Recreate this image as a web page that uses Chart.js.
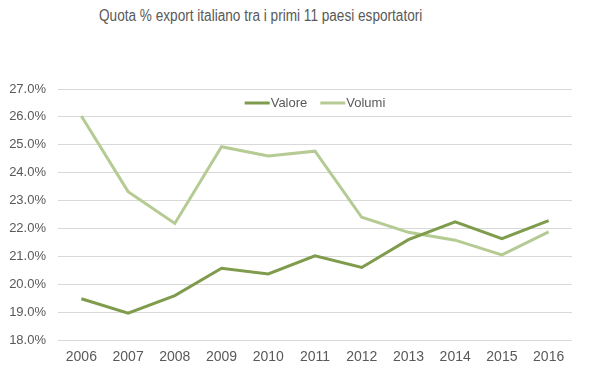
<!DOCTYPE html>
<html>
<head>
<meta charset="utf-8">
<script src="https://cdn.jsdelivr.net/npm/chart.js@4.4.1/dist/chart.umd.min.js"></script>
<style>
  html, body { margin: 0; padding: 0; background: #ffffff; }
  #wrap { position: relative; width: 600px; height: 378px; }
  #title {
    position: absolute; left: 99px; top: 7px; white-space: nowrap;
    font-family: "Liberation Sans", Arial, sans-serif;
    font-size: 16px; color: #595959;
    transform: scaleX(0.85); transform-origin: left top;
  }
  canvas { position: absolute; left: 0; top: 0; }
</style>
</head>
<body>
<div id="wrap">
  <div id="title">Quota % export italiano tra i primi 11 paesi esportatori</div>
  <canvas id="chart" width="600" height="378"></canvas>
</div>
<script>
  const YEARS = ["2006", "2007", "2008", "2009", "2010", "2011", "2012", "2013", "2014", "2015", "2016"];
  const VALORE = [19.48, 18.96, 19.59, 20.57, 20.37, 21.02, 20.6, 21.6, 22.24, 21.63, 22.28];
  const VOLUMI = [26.03, 23.32, 22.18, 24.93, 24.6, 24.77, 22.4, 21.86, 21.58, 21.05, 21.88];
  const Y_MIN = 18, Y_MAX = 27, Y_STEP = 1;

  const TEXT = "#595959";
  const GRID = "#d9d9d9";
  const FONT = "'Liberation Sans', Arial, sans-serif";

  // legend drawn inside the plot, centred, just under the top gridline
  const innerLegend = {
    id: "innerLegend",
    afterDatasetsDraw(chart) {
      const c = chart.ctx, area = chart.chartArea;
      const sw = 25, gap = 1, itemGap = 13, y = area.top + 14;
      c.save();
      c.font = "13px " + FONT;
      const items = chart.data.datasets.map((ds) => ({
        ds, w: sw + gap + c.measureText(ds.label).width,
      }));
      const total = items.reduce((a, it) => a + it.w, 0) + itemGap * (items.length - 1);
      let x = (area.left + area.right) / 2 - total / 2;
      items.forEach((it) => {
        c.strokeStyle = it.ds.borderColor;
        c.lineWidth = 3;
        c.beginPath();
        c.moveTo(x, y);
        c.lineTo(x + sw, y);
        c.stroke();
        c.fillStyle = TEXT;
        c.textBaseline = "middle";
        c.fillText(it.ds.label, x + sw + gap, y);
        x += it.w + itemGap;
      });
      c.restore();
    },
  };

  const ctx = document.getElementById("chart").getContext("2d");
  new Chart(ctx, {
    type: "line",
    data: {
      labels: YEARS,
      datasets: [
        { label: "Valore", data: VALORE, borderColor: "#7f9b4c", backgroundColor: "#7f9b4c",
          borderWidth: 3, pointRadius: 0, tension: 0 },
        { label: "Volumi", data: VOLUMI, borderColor: "#b5cb93", backgroundColor: "#b5cb93",
          borderWidth: 3, pointRadius: 0, tension: 0 },
      ],
    },
    options: {
      responsive: false, animation: false,
      layout: { padding: { top: 89, right: 28, left: 0, bottom: 0 } },
      scales: {
        x: {
          offset: true,
          grid: { display: false, drawTicks: false },
          border: { display: false },
          ticks: { color: TEXT, font: { family: FONT, size: 14 }, padding: 9, maxRotation: 0 },
          afterFit: (s) => { s.height = 38; },
        },
        y: {
          min: Y_MIN, max: Y_MAX,
          grid: { color: GRID, lineWidth: 1, drawTicks: false },
          border: { display: false },
          ticks: {
            stepSize: Y_STEP, color: TEXT, padding: 12,
            font: { family: FONT, size: 13 },
            callback: (v) => v.toFixed(1) + "%",
          },
          afterFit: (s) => { s.width = 58; },
        },
      },
      plugins: {
        title: { display: false },
        tooltip: { enabled: false },
        legend: { display: false },
      },
    },
    plugins: [innerLegend],
  });
</script>
</body>
</html>
